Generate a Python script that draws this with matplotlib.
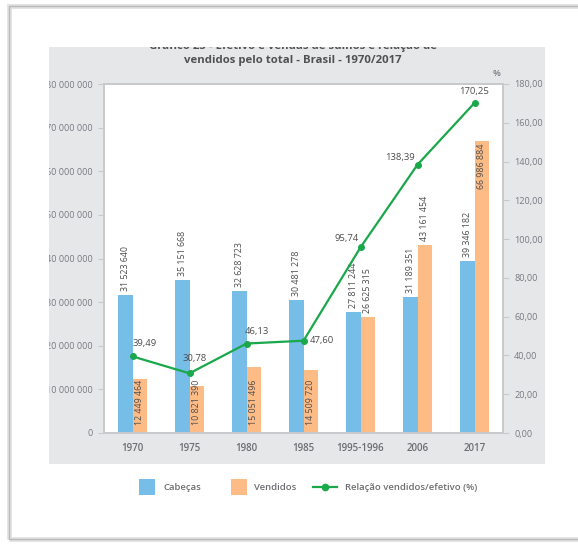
import matplotlib
matplotlib.use("Agg")
import matplotlib.pyplot as plt
from matplotlib.patches import Rectangle
from matplotlib.lines import Line2D
from matplotlib.ticker import FixedLocator

plt.rcParams['font.family'] = ['Open Sans', 'DejaVu Sans']

# ---- data ----
categories = ["1970", "1975", "1980", "1985", "1995-1996", "2006", "2017"]
cabecas = [31523640, 35151668, 32628723, 30481278, 27811244, 31189351, 39346182]
vendidos = [12449464, 10821390, 15051496, 14509720, 26625315, 43161454, 66986884]
relacao = [39.49, 30.78, 46.13, 47.60, 95.74, 138.39, 170.25]
left_ticks = [0, 10000000, 20000000, 30000000, 40000000, 50000000, 60000000, 70000000, 80000000]
right_ticks = [0, 20, 40, 60, 80, 100, 120, 140, 160, 180]

W, H = 578, 547
BLUE = '#76bde8'
ORANGE = '#fdbc86'
GREEN = '#1aa84b'
TICK = '#777a82'
SPINE = '#c8c9cc'


def fmt_int(v):
    return f"{v:,}".replace(",", " ")


def fmt_dec(v):
    return f"{v:.2f}".replace(".", ",")


def fx(px):
    return px / W


def fy(py):
    return 1 - py / H


fig = plt.figure(figsize=(W / 100, H / 100), dpi=100)

# outer page frame
fig.patches.append(Rectangle((fx(9), fy(539)), fx(620) - fx(9), fy(6) - fy(539),
                             transform=fig.transFigure, fill=False,
                             edgecolor='#e3e3e3', linewidth=3.5, zorder=0))
fig.patches.append(Rectangle((fx(9), fy(539)), fx(620) - fx(9), fy(6) - fy(539),
                             transform=fig.transFigure, fill=False,
                             edgecolor='#b9b9b9', linewidth=1.0, zorder=0))

# grey chart panel
panel = fig.add_axes([fx(49), fy(464), fx(545) - fx(49), fy(47) - fy(464)])
panel.set_facecolor('#e6e7e9')
panel.set_xticks([])
panel.set_yticks([])
for s in panel.spines.values():
    s.set_visible(False)
panel.set_zorder(0)

# title (first line is cut by the panel top)
for txt, ypx in [("Gráfico 23 - Efetivo e vendas de suínos e relação de", 46.5),
                 ("vendidos pelo total - Brasil - 1970/2017", 60)]:
    t = fig.text(fx(293), fy(ypx), txt, ha='center', va='center', fontsize=8.2,
                 fontweight='bold', color='#505153')
    t.set_clip_on(True)
    t.set_clip_box(panel.bbox)

# plot area
ax = fig.add_axes([fx(104), fy(433), fx(503) - fx(104), fy(84) - fy(433)])
ax.set_zorder(1)
ax.set_facecolor('white')
x = list(range(len(categories)))
bw = 0.25
xb = [i - bw / 2 for i in x]
xo = [i + bw / 2 for i in x]
ax.bar(xb, cabecas, width=bw, color=BLUE, zorder=2)
ax.bar(xo, vendidos, width=bw, color=ORANGE, zorder=2)
ax.set_xlim(-0.5, len(categories) - 0.5)
ax.set_ylim(0, 80000000)
ax.yaxis.set_major_locator(FixedLocator(left_ticks))
ax.set_yticklabels([fmt_int(v) for v in left_ticks])
ax.set_xticks(x)
ax.set_xticklabels(categories)
ax.tick_params(axis='x', length=0, pad=7, labelsize=7, labelcolor='#6d6e71')
for lab in ax.get_xticklabels():
    lab.set_fontweight('semibold')
ax.tick_params(axis='y', length=4, width=0.8, color=SPINE, pad=4,
               labelsize=6.5, labelcolor=TICK)
for lab in ax.get_yticklabels():
    lab.set_fontweight('medium')
for s in ax.spines.values():
    s.set_color(SPINE)
    s.set_linewidth(1.2)

# value labels on bars
for i in x:
    ax.annotate(fmt_int(cabecas[i]), (xb[i], cabecas[i]), xytext=(0, 4),
                textcoords='offset pixels', rotation=90, ha='center', va='bottom',
                fontsize=6.4, color='#4d4d4f', zorder=3)
for i in x:
    if i <= 3:
        pos, off, va = 0, 8, 'bottom'
    elif i <= 5:
        pos, off, va = vendidos[i], 4, 'bottom'
    else:
        pos, off, va = vendidos[i], -3, 'top'
    ax.annotate(fmt_int(vendidos[i]), (xo[i], pos), xytext=(0, off),
                textcoords='offset pixels', rotation=90, ha='center', va=va,
                fontsize=6.4, color='#4d4d4f', zorder=3)

# ratio line on secondary axis
ax2 = ax.twinx()
ax2.plot(x, relacao, color=GREEN, linewidth=1.6, marker='o', markersize=4,
         zorder=4)
ax2.set_ylim(0, 180)
ax2.yaxis.set_major_locator(FixedLocator(right_ticks))
ax2.set_yticklabels([fmt_dec(v) for v in right_ticks])
ax2.tick_params(axis='y', length=4, width=0.8, color=SPINE, pad=4,
                labelsize=6.6, labelcolor=TICK)
for lab in ax2.get_yticklabels():
    lab.set_fontweight('medium')
for s in ax2.spines.values():
    s.set_color(SPINE)
    s.set_linewidth(1.2)
fig.text(fx(497), fy(73), "%", ha='center', va='center',
         fontsize=6.6, color=TICK, fontweight='semibold')

line_offsets = [(0, 13, 'left'), (5, 15, 'center'), (-2, 12, 'left'),
                (6, 0, 'left'), (-2, 9, 'right'), (-3, 7, 'right'),
                (0, 11, 'center')]
for i, (dx, dy, ha) in enumerate(line_offsets):
    ax2.annotate(fmt_dec(relacao[i]), (x[i], relacao[i]), xytext=(dx, dy),
                 textcoords='offset pixels', ha=ha, va='center',
                 fontsize=6.8, color='#4d4d4f', zorder=5)

# clip the left tick labels to the panel
fig.canvas.draw()
for lab in ax.get_yticklabels():
    lab.set_clip_on(True)
    lab.set_clip_box(panel.bbox)

# legend
ly = 487
LEG = '#6d6e71'
fig.patches.append(Rectangle((fx(139), fy(495)), fx(155) - fx(139), fy(479) - fy(495),
                             transform=fig.transFigure, facecolor=BLUE,
                             edgecolor='none'))
fig.text(fx(163), fy(ly), "Cabeças", ha='left', va='center', fontsize=6.8,
         color=LEG, fontweight='semibold')
fig.patches.append(Rectangle((fx(231), fy(495)), fx(247) - fx(231), fy(479) - fy(495),
                             transform=fig.transFigure, facecolor=ORANGE,
                             edgecolor='none'))
fig.text(fx(254), fy(ly), "Vendidos", ha='left', va='center', fontsize=6.8,
         color=LEG, fontweight='semibold')
fig.lines.append(Line2D([fx(313), fx(337)], [fy(ly), fy(ly)],
                        transform=fig.transFigure, color=GREEN, linewidth=1.6))
fig.lines.append(Line2D([fx(325)], [fy(ly)], transform=fig.transFigure,
                        color=GREEN, marker='o', markersize=4.5))
fig.text(fx(345), fy(ly), "Relação vendidos/efetivo (%)", ha='left', va='center',
         fontsize=6.8, color=LEG, fontweight='semibold')

fig.savefig("out.png", dpi=100, facecolor='white')
